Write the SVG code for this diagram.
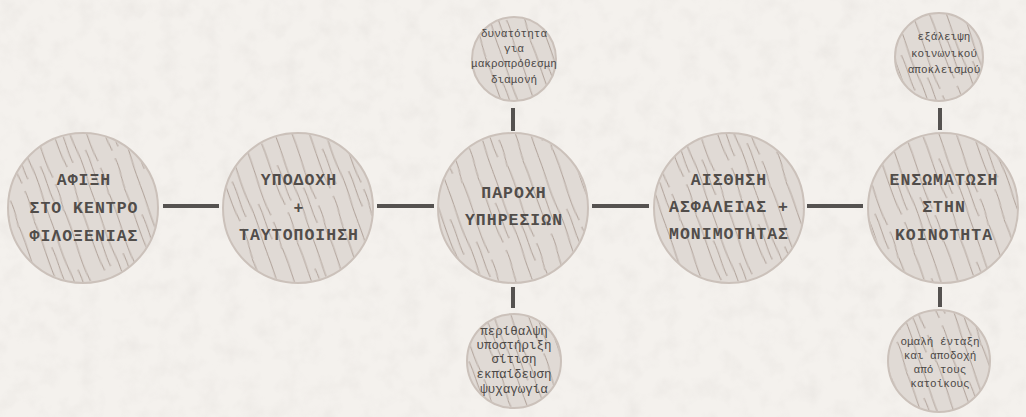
<svg xmlns="http://www.w3.org/2000/svg" width="1026" height="417" viewBox="0 0 1026 417">
<style>
.node{fill:#e0dad5;stroke:#cbc1ba;stroke-width:2}
.grain{fill:url(#grain);stroke:none}
.big{font-family:"Liberation Mono","DejaVu Sans Mono",monospace;font-size:16.5px;font-weight:bold;fill:#514d4a;text-anchor:middle;letter-spacing:1px}
.small{font-family:"Liberation Mono","DejaVu Sans Mono",monospace;font-size:11px;fill:#4b4846;text-anchor:middle}
.conn{stroke:#555250;stroke-width:4;fill:none}
</style>
<defs>
<filter id="paper" x="0" y="0" width="100%" height="100%">
<feTurbulence type="fractalNoise" baseFrequency="0.05" numOctaves="3" seed="4" result="n"/>
<feColorMatrix type="matrix" values="0 0 0 0 0.55  0 0 0 0 0.52  0 0 0 0 0.5  0 0 0 -1.1 0.62" in="n"/>
</filter>
<pattern id="grain" patternUnits="userSpaceOnUse" width="48" height="110" patternTransform="rotate(-20)">
<g stroke="#ab9d94" stroke-width="0.9" fill="none">
<path d="M4,-5 C7,20 2,45 6,70"/>
<path d="M6,78 C8,90 4,100 5,115"/>
<path d="M20,-5 C22,15 18,35 21,60 C23,80 19,95 21,115"/>
<path d="M36,-5 C39,25 33,50 37,75"/>
<path d="M37,82 C39,95 35,105 36,115"/>
<path d="M12,30 C14,45 11,55 13,68"/>
<path d="M29,60 C31,72 28,85 30,98"/>
</g>
</pattern>
</defs>
<rect width="1026" height="417" fill="#f4f1ed"/>
<rect width="1026" height="417" filter="url(#paper)" opacity="0.25"/>
<g id="connectors">
<line class="conn" x1="163" y1="206" x2="219" y2="206"/>
<line class="conn" x1="377" y1="206" x2="434" y2="206"/>
<line class="conn" x1="592" y1="206" x2="649" y2="206"/>
<line class="conn" x1="807" y1="206" x2="863" y2="206"/>
<line class="conn" x1="513" y1="108" x2="513" y2="131"/>
<line class="conn" x1="513" y1="287" x2="513" y2="308"/>
<line class="conn" x1="940" y1="108" x2="940" y2="130"/>
<line class="conn" x1="940" y1="287" x2="940" y2="307"/>
</g>
<g id="n1">
<circle class="node" cx="83" cy="208" r="75"/>
<circle class="grain" cx="83" cy="208" r="74"/>
<text class="big" x="84" y="185">ΑΦΙΞΗ</text>
<text class="big" x="84" y="213">ΣΤΟ ΚΕΝΤΡΟ</text>
<text class="big" x="84" y="241">ΦΙΛΟΞΕΝΙΑΣ</text>
</g>
<g id="n2">
<circle class="node" cx="298" cy="208" r="75"/>
<circle class="grain" cx="298" cy="208" r="74"/>
<text class="big" x="299" y="185">ΥΠΟΔΟΧΗ</text>
<text class="big" x="299" y="213">+</text>
<text class="big" x="299" y="240">ΤΑΥΤΟΠΟΙΗΣΗ</text>
</g>
<g id="n3">
<circle class="node" cx="513" cy="208" r="75"/>
<circle class="grain" cx="513" cy="208" r="74"/>
<text class="big" x="514" y="198">ΠΑΡΟΧΗ</text>
<text class="big" x="514" y="225">ΥΠΗΡΕΣΙΩΝ</text>
</g>
<g id="n4">
<circle class="node" cx="729" cy="208" r="75"/>
<circle class="grain" cx="729" cy="208" r="74"/>
<text class="big" x="729" y="185">ΑΙΣΘΗΣΗ</text>
<text class="big" x="729" y="212">ΑΣΦΑΛΕΙΑΣ +</text>
<text class="big" x="729" y="239">ΜΟΝΙΜΟΤΗΤΑΣ</text>
</g>
<g id="n5">
<circle class="node" cx="943" cy="208" r="75"/>
<circle class="grain" cx="943" cy="208" r="74"/>
<text class="big" x="944" y="185">ΕΝΣΩΜΑΤΩΣΗ</text>
<text class="big" x="944" y="212">ΣΤΗΝ</text>
<text class="big" x="944" y="240">ΚΟΙΝΟΤΗΤΑ</text>
</g>
<g id="n3top">
<circle class="node" cx="514" cy="59" r="42"/>
<circle class="grain" cx="514" cy="59" r="41"/>
<text class="small" x="514" y="37">δυνατότητα</text>
<text class="small" x="514" y="52">για</text>
<text class="small" x="514" y="67">μακροπρόθεσμη</text>
<text class="small" x="514" y="83">διαμονή</text>
</g>
<g id="n3bottom">
<circle class="node" cx="514" cy="361" r="47"/>
<circle class="grain" cx="514" cy="361" r="46"/>
<text class="small" x="514" y="335" style="font-size:12.5px">περίθαλψη</text>
<text class="small" x="514" y="349" style="font-size:12.5px">υποστήριξη</text>
<text class="small" x="514" y="363" style="font-size:12.5px">σίτιση</text>
<text class="small" x="514" y="378" style="font-size:12.5px">εκπαίδευση</text>
<text class="small" x="514" y="393" style="font-size:12.5px">ψυχαγωγία</text>
</g>
<g id="n5top">
<circle class="node" cx="939" cy="57" r="44"/>
<circle class="grain" cx="939" cy="57" r="43"/>
<text class="small" x="944" y="40">εξάλειψη</text>
<text class="small" x="944" y="57">κοινωνικού</text>
<text class="small" x="944" y="73">αποκλεισμού</text>
</g>
<g id="n5bottom">
<circle class="node" cx="939" cy="361" r="51"/>
<circle class="grain" cx="939" cy="361" r="50"/>
<text class="small" x="940" y="345">ομαλή ένταξη</text>
<text class="small" x="940" y="359">και αποδοχή</text>
<text class="small" x="940" y="373">από τους</text>
<text class="small" x="940" y="387">κατοίκους</text>
</g>
</svg>
